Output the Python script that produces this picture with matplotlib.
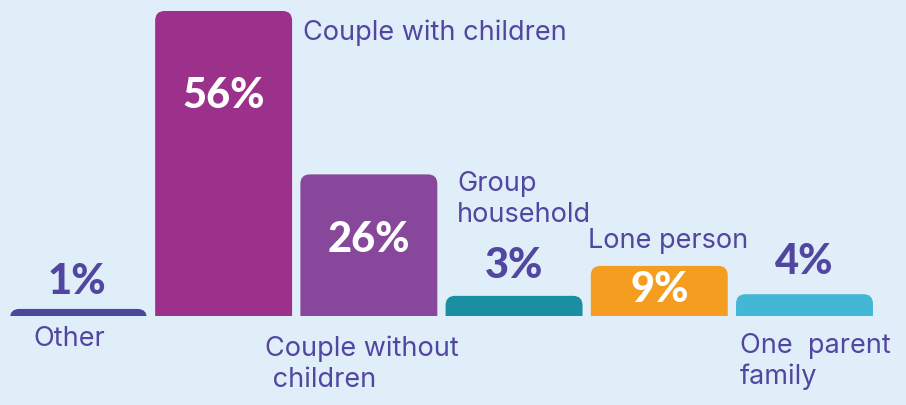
import matplotlib.pyplot as plt
from matplotlib.patches import FancyBboxPatch, Rectangle

# donnees
categories = ["Other", "Couple with children", "Couple without\n children",
              "Group\nhousehold", "Lone person", "One  parent\nfamily"]
valeurs = [1.3, 56, 26, 3.7, 9.2, 4]
etiquettes = ["1%", "56%", "26%", "3%", "9%", "4%"]
couleurs = ["#4b479c", "#9c318b", "#87479b", "#1b8fa2", "#f59d21", "#43b7d6"]

fond = "#e0eef9"
texte = "#5146a0"

fig = plt.figure(figsize=(9.06, 4.05), dpi=100)
fig.patch.set_facecolor(fond)
ax = fig.add_axes([0, 0, 1, 1])
ax.set_facecolor(fond)
ax.set_xlim(-0.540, 5.699)
ax.set_ylim(-16.34, 58.02)
ax.axis("off")

largeur = 0.943
rx = 0.065          # rayon des coins en unites x
aspect = 26.7       # rapport px x / px y

clip = Rectangle((-1, 0), 10, 100, transform=ax.transData)
for i, v in enumerate(valeurs):
    barre = FancyBboxPatch((i - largeur / 2, -4), largeur, v + 4,
                           boxstyle="round,pad=0,rounding_size=%f" % rx,
                           mutation_aspect=aspect,
                           facecolor=couleurs[i], edgecolor="none")
    ax.add_patch(barre)
    barre.set_clip_path(clip)

# etiquettes de valeurs
gras = dict(fontsize=30, fontweight="black", family="Lato", ha="center", va="center")
ax.text(1, 40.4, etiquettes[1], color="white", **gras)
ax.text(2, 14.0, etiquettes[2], color="white", **gras)
ax.text(4, 4.8, etiquettes[4], color="white", **gras)
ax.text(-0.01, 6.2, etiquettes[0], color=texte, **gras)
ax.text(3, 9.2, etiquettes[3], color=texte, **gras)
ax.text(5, 9.9, etiquettes[5], color=texte, **gras)

# etiquettes de categories
norm = dict(fontsize=19.5, family="Inter", color=texte, linespacing=1.25)
ax.text(-0.06, -4.2, categories[0], ha="center", va="center", **norm)
ax.text(1.547, 52.0, categories[1], ha="left", va="center", **norm)
ax.text(1.285, -8.8, categories[2], ha="left", va="center", **norm)
ax.text(2.607, 21.3, categories[3], ha="left", va="center", **norm)
ax.text(3.510, 13.8, categories[4], ha="left", va="center", **norm)
ax.text(4.556, -8.35, categories[5], ha="left", va="center", **norm)

fig.savefig("out.png", dpi=100, facecolor=fond)
